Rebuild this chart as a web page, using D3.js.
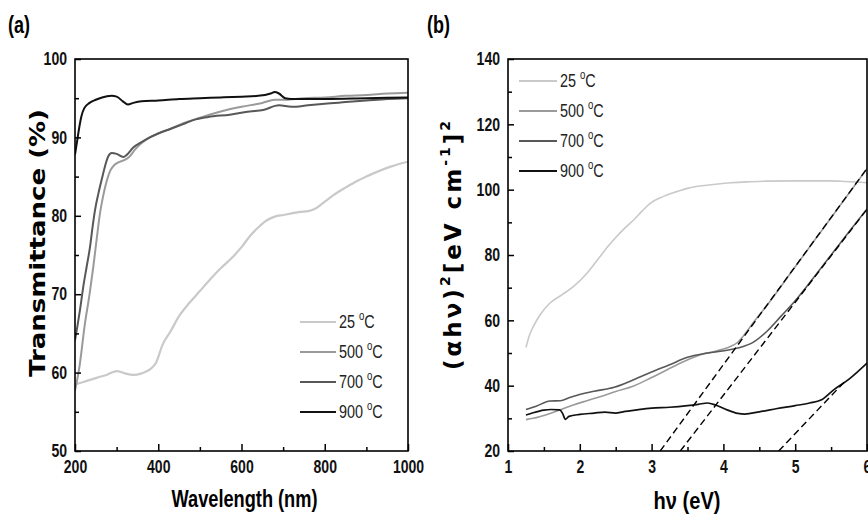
<!DOCTYPE html>
<html><head><meta charset="utf-8">
<script src="https://cdn.jsdelivr.net/npm/d3@7"></script>
<style>
html,body{margin:0;padding:0;background:#fff;}
svg{display:block;}
</style></head>
<body>
<svg id="chart" width="868" height="518"></svg>
<script>
// ---------- Panel (a) data: Transmittance vs wavelength ----------
const seriesNames = ["25", "500", "700", "900"];
const colorsA = ["#c9c9c9", "#9a9a9a", "#585858", "#111111"];

const a25_wl = [200,220,250,280,300,320,340,360,380,395,410,430,450,475,500,525,550,580,600,620,640,660,680,700,720,740,760,780,800,820,850,880,900,930,960,1000];
const a25_T  = [58.5,58.8,59.3,59.8,60.2,59.9,59.7,59.9,60.4,61.3,63.5,65.3,67.2,68.9,70.4,71.9,73.3,74.8,76.0,77.4,78.5,79.4,79.9,80.1,80.3,80.5,80.6,81.0,81.8,82.6,83.6,84.5,85.0,85.7,86.3,86.9];

const a500_wl = [200,210,224,235,244,252,260,268,276,285,295,304,318,330,345,360,380,400,430,460,500,550,600,650,680,700,750,800,850,900,950,1000];
const a500_T  = [57.7,60.5,66.3,70.0,73.5,77.0,80.3,82.6,84.4,85.8,86.5,86.8,87.1,87.5,88.5,89.3,90.0,90.5,91.1,91.8,92.5,93.3,93.9,94.4,94.8,94.8,95.0,95.1,95.3,95.4,95.6,95.7];

const a700_wl = [200,206,212,220,228,236,242,248,256,264,272,280,288,300,316,325,340,360,376,400,430,460,484,520,572,620,652,690,720,760,800,850,900,950,1000];
const a700_T  = [64.1,66.0,68.0,71.0,73.5,76.0,78.5,80.7,82.8,84.6,86.3,87.6,88.0,87.9,87.5,87.8,88.7,89.4,89.9,90.5,91.1,91.7,92.2,92.6,92.9,93.3,93.5,94.1,93.9,94.1,94.3,94.5,94.7,94.9,95.0];

const a900_wl = [200,205,210,215,222,235,250,265,288,300,315,327,340,360,400,450,500,550,600,640,670,680,690,705,720,800,900,1000];
const a900_T  = [87.8,89.5,91.2,92.6,93.7,94.4,94.8,95.1,95.3,95.2,94.6,94.2,94.4,94.6,94.7,94.9,95.0,95.1,95.2,95.3,95.6,95.8,95.6,95.0,94.9,94.9,95.0,95.1];

const xTicksA = [200,400,600,800,1000];
const xMinorA = [300,500,700,900];
const yTicksA = [50,60,70,80,90,100];
const yMinorA = [55,65,75,85,95];

// ---------- Panel (b) data: (alpha h nu)^2 vs h nu ----------
const colorsB = ["#c9c9c9", "#9a9a9a", "#585858", "#111111"];

const b25_E = [1.25,1.3,1.35,1.45,1.585,1.75,1.91,2.1,2.28,2.4,2.51,2.63,2.75,2.87,2.98,3.15,3.35,3.5,3.67,3.86,4.1,4.32,4.6,5.0,5.48,5.7,6.0];
const b25_V = [51.7,55.5,58.0,61.8,65.3,67.8,70.3,74.4,79.5,82.8,85.6,88.3,90.7,93.5,95.8,97.8,99.4,100.4,101.1,101.6,102.1,102.4,102.6,102.7,102.7,102.5,102.1];

const b500_E = [1.25,1.35,1.585,1.75,1.91,2.1,2.28,2.5,2.75,3.0,3.21,3.45,3.67,3.86,4.0,4.09,4.2,4.27,4.41,4.6,5.0,5.5,6.0];
const b500_V = [29.6,30.0,31.5,32.8,34.1,35.4,36.6,38.2,39.9,42.5,44.8,47.4,49.4,50.4,51.2,51.9,53.3,55.0,59.1,64.4,76.4,91.4,106.4];

const b700_E = [1.25,1.4,1.585,1.73,1.85,2.01,2.2,2.48,2.75,2.99,3.25,3.5,3.75,4.01,4.2,4.43,4.6,4.8,5.0,5.25,5.5,5.75,6.0];
const b700_V = [32.7,33.8,35.3,35.4,36.3,37.4,38.3,39.5,41.8,44.1,46.4,48.7,49.9,50.7,51.5,53.5,56.5,61.2,66.0,72.9,80.0,87.1,94.1];

const b900_E = [1.25,1.35,1.5,1.6,1.72,1.76,1.8,1.85,2.0,2.2,2.35,2.5,2.6,2.8,3.0,3.25,3.5,3.65,3.78,3.9,4.05,4.2,4.3,4.5,4.75,5.0,5.2,5.36,5.54,5.75,6.0];
const b900_V = [31.0,31.7,32.5,32.7,32.6,31.5,29.7,30.6,31.2,31.6,31.9,31.6,32.0,32.6,33.1,33.4,33.9,34.3,34.7,34.0,32.6,31.5,31.3,32.0,33.0,33.9,34.7,35.6,38.8,42.0,46.9];

// linear fits (dashed)
const fit500_E = [3.12, 6.0], fit500_V = [20, 106.5];
const fit700_E = [3.40, 6.0], fit700_V = [20, 94.0];
const fit900_E = [4.77, 5.7], fit900_V = [20, 41.5];

const xTicksB = [1,2,3,4,5,6];
const xMinorB = [1.5,2.5,3.5,4.5,5.5];
const yTicksB = [20,40,60,80,100,120,140];
const yMinorB = [30,50,70,90,110,130];

// ---------- drawing ----------
const svg = d3.select("#chart");
const FONT = '"Liberation Sans",Arial,sans-serif';
const WIDE = '"DejaVu Sans",sans-serif';

function zip(xs, ys){ return xs.map((x,i)=>[x, ys[i]]); }

// horizontally condense text (narrow-font look)
function squeeze(sel, f){
  sel.each(function(){
    const t = d3.select(this);
    const x = +t.attr("x") || 0;
    t.attr("x", x/f).attr("transform", `scale(${f},1)`);
  });
}

function drawAxes(g, x, y, w, h, xt, xm, yt, ym, xfmt){
  const ax = g.append("g").attr("transform", `translate(0,${h})`)
    .call(d3.axisBottom(x).tickValues(xt).tickSize(-7).tickPadding(9).tickFormat(xfmt));
  const axm = g.append("g").attr("transform", `translate(0,${h})`)
    .call(d3.axisBottom(x).tickValues(xm).tickSize(-4).tickFormat(""));
  const ay = g.append("g")
    .call(d3.axisLeft(y).tickValues(yt).tickSize(-6).tickPadding(8));
  const aym = g.append("g")
    .call(d3.axisLeft(y).tickValues(ym).tickSize(-4).tickFormat(""));
  [ax,axm,ay,aym].forEach(a=>{
    a.select(".domain").remove();
    a.selectAll(".tick line").attr("stroke","#000").attr("stroke-width",1.5);
    a.selectAll("text").attr("font-family",FONT).attr("font-size",18).attr("font-weight","bold").attr("fill","#111");
  });
  squeeze(ax.selectAll("text"), 0.78);
  squeeze(ay.selectAll("text"), 0.78);
  g.append("rect").attr("x",0).attr("y",0).attr("width",w).attr("height",h)
    .attr("fill","none").attr("stroke","#000").attr("stroke-width",1.6);
}

function legend(g, x0, y0, dy, len, colors, sw){
  seriesNames.forEach((n,i)=>{
    const yy = y0 + i*dy;
    g.append("line").attr("x1",x0).attr("x2",x0+len).attr("y1",yy).attr("y2",yy)
      .attr("stroke",colors[i]).attr("stroke-width",sw);
    const t = g.append("text").attr("x",x0+len+3).attr("y",yy+6)
      .attr("font-family",FONT).attr("font-size",18).attr("fill","#222");
    t.append("tspan").text(n + " ");
    t.append("tspan").attr("dy",-8).attr("font-size",12).text("o");
    t.append("tspan").attr("dy",8).text("C");
    squeeze(t, 0.8);
  });
}

// Panel (a)
{
  const L=75, T=59, W=333, H=392;
  const g = svg.append("g").attr("transform",`translate(${L},${T})`);
  const x = d3.scaleLinear().domain([200,1000]).range([0,W]);
  const y = d3.scaleLinear().domain([50,100]).range([H,0]);
  const line = d3.line().x(d=>x(d[0])).y(d=>y(d[1])).curve(d3.curveMonotoneX);
  const data = [zip(a25_wl,a25_T), zip(a500_wl,a500_T), zip(a700_wl,a700_T), zip(a900_wl,a900_T)];
  g.append("clipPath").attr("id","clipA").append("rect").attr("width",W).attr("height",H);
  const lg = g.append("g").attr("clip-path","url(#clipA)");
  data.forEach((d,i)=>{
    lg.append("path").datum(d).attr("d",line).attr("fill","none")
      .attr("stroke",colorsA[i]).attr("stroke-width", i===0?2.2:2);
  });
  drawAxes(g,x,y,W,H,xTicksA,xMinorA,yTicksA,yMinorA,d3.format("d"));
  legend(g, 225, 263, 30, 36, colorsA, 2);
  svg.append("text").attr("x", L + W/2 + 3).attr("y", 507)
    .attr("text-anchor","middle").attr("font-family",FONT).attr("font-size",24).attr("font-weight","bold")
    .attr("textLength",146).attr("lengthAdjust","spacingAndGlyphs")
    .text("Wavelength (nm)");
  svg.append("text").attr("transform","translate(45,243) rotate(-90)")
    .attr("text-anchor","middle").attr("font-family",WIDE).attr("font-size",22).attr("font-weight","bold")
    .attr("textLength",268).attr("lengthAdjust","spacingAndGlyphs")
    .text("Transmittance (%)");
  svg.append("text").attr("x",8).attr("y",33).attr("font-family",FONT).attr("font-size",24).attr("font-weight","bold")
    .attr("textLength",22).attr("lengthAdjust","spacingAndGlyphs").text("(a)");
}

// Panel (b)
{
  const L=508, T=59, W=359, H=392;
  const g = svg.append("g").attr("transform",`translate(${L},${T})`);
  const x = d3.scaleLinear().domain([1,6]).range([0,W]);
  const y = d3.scaleLinear().domain([20,140]).range([H,0]);
  const line = d3.line().x(d=>x(d[0])).y(d=>y(d[1])).curve(d3.curveMonotoneX);
  const lineL = d3.line().x(d=>x(d[0])).y(d=>y(d[1]));
  const data = [zip(b25_E,b25_V), zip(b500_E,b500_V), zip(b700_E,b700_V), zip(b900_E,b900_V)];
  g.append("clipPath").attr("id","clipB").append("rect").attr("width",W).attr("height",H);
  const lg = g.append("g").attr("clip-path","url(#clipB)");
  data.forEach((d,i)=>{
    lg.append("path").datum(d).attr("d",line).attr("fill","none")
      .attr("stroke",colorsB[i]).attr("stroke-width", i===3?1.7:1.6);
  });
  [zip(fit500_E,fit500_V), zip(fit700_E,fit700_V), zip(fit900_E,fit900_V)].forEach(d=>{
    lg.append("path").datum(d).attr("d",lineL).attr("fill","none")
      .attr("stroke","#000").attr("stroke-width",1.4).attr("stroke-dasharray","7,4");
  });
  drawAxes(g,x,y,W,H,xTicksB,xMinorB,yTicksB,yMinorB,d3.format("d"));
  legend(g, 11, 22, 30, 38, colorsB, 1.8);
  svg.append("text").attr("x", 687).attr("y", 509)
    .attr("text-anchor","middle").attr("font-family",FONT).attr("font-size",24).attr("font-weight","bold")
    .attr("textLength",67).attr("lengthAdjust","spacingAndGlyphs")
    .text("hν (eV)");
  const yt = svg.append("text").attr("transform","translate(461,244) rotate(-90)")
    .attr("text-anchor","middle").attr("font-family",WIDE).attr("font-size",23).attr("font-weight","bold")
    .attr("letter-spacing",3);
  yt.append("tspan").text("(αhν)");
  yt.append("tspan").attr("dy",-11).attr("font-size",14).text("2");
  yt.append("tspan").attr("dy",11).text("[eV cm");
  yt.append("tspan").attr("dy",-11).attr("font-size",14).text("-1");
  yt.append("tspan").attr("dy",11).text("]");
  yt.append("tspan").attr("dy",-11).attr("font-size",14).text("2");
  svg.append("text").attr("x",427).attr("y",33).attr("font-family",FONT).attr("font-size",24).attr("font-weight","bold")
    .attr("textLength",23).attr("lengthAdjust","spacingAndGlyphs").text("(b)");
}
</script>
</body></html>
